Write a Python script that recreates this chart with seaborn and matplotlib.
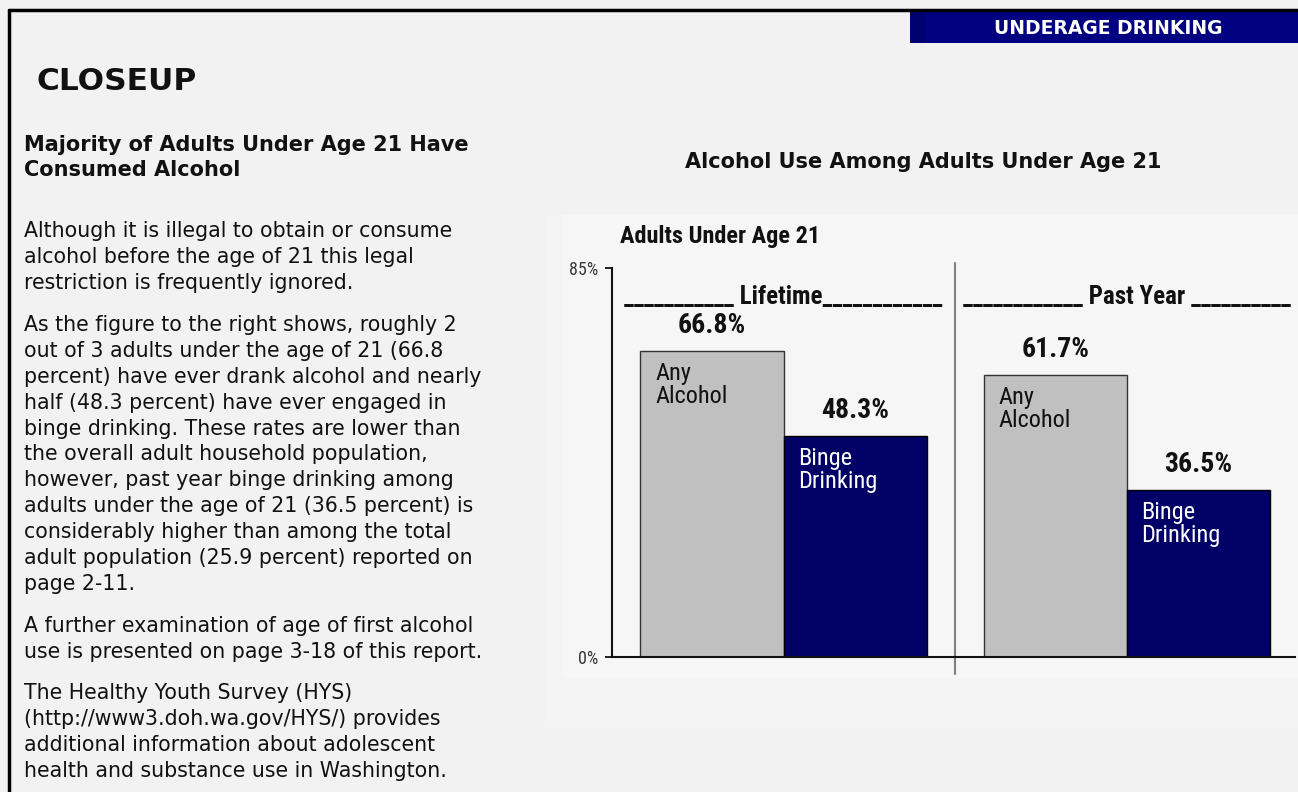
import os
import matplotlib
matplotlib.use("Agg")
import matplotlib.pyplot as plt
from matplotlib import font_manager
from matplotlib.font_manager import FontProperties
from matplotlib.patches import Rectangle
from matplotlib.lines import Line2D
import seaborn as sns
import pandas as pd

# ---- chart data -------------------------------------------------------
periods = ["Lifetime", "Past Year"]
measures = ["Any Alcohol", "Binge Drinking"]
any_alcohol = [66.8, 61.7]
binge_drinking = [48.3, 36.5]
y_ticks = [0, 85]
y_tick_labels = ["0%", "85%"]
bar_colors = ["#C0C0C0", "#000066"]
inner_labels = ["Any\nAlcohol", "Binge\nDrinking"]
inner_label_colors = ["#111111", "#FFFFFF"]
period_headers = ["___________ Lifetime____________",
                  "____________ Past Year __________"]

# ---- page text ---------------------------------------------------------
section_tag = "UNDERAGE DRINKING"
page_title = "CLOSEUP"
subhead = ["Majority of Adults Under Age 21 Have", "Consumed Alcohol"]
chart_title = "Alcohol Use Among Adults Under Age 21"
panel_title = "Adults Under Age 21"
paragraphs = [
    ["Although it is illegal to obtain or consume",
     "alcohol before the age of 21 this legal",
     "restriction is frequently ignored."],
    ["As the figure to the right shows, roughly 2",
     "out of 3 adults under the age of 21 (66.8",
     "percent) have ever drank alcohol and nearly",
     "half (48.3 percent) have ever engaged in",
     "binge drinking. These rates are lower than",
     "the overall adult household population,",
     "however, past year binge drinking among",
     "adults under the age of 21 (36.5 percent) is",
     "considerably higher than among the total",
     "adult population (25.9 percent) reported on",
     "page 2-11."],
    ["A further examination of age of first alcohol",
     "use is presented on page 3-18 of this report."],
    ["The Healthy Youth Survey (HYS)",
     "(http://www3.doh.wa.gov/HYS/) provides",
     "additional information about adolescent",
     "health and substance use in Washington."],
]
paragraph_tops = [231, 325, 626, 693]
line_step = 25.9

df = pd.DataFrame({
    "period": periods * 2,
    "measure": [measures[0]] * 2 + [measures[1]] * 2,
    "value": any_alcohol + binge_drinking,
})

W, H = 1298, 792
sns.set_theme(style="white")
plt.rcParams["font.family"] = ["DejaVu Sans"]


def find_font(keys):
    """Return the first installed font file whose name contains one of keys."""
    files = [f.fname for f in font_manager.fontManager.ttflist]
    files += font_manager.findSystemFonts()
    for key in keys:
        for path in files:
            if key.lower() in os.path.basename(path).lower():
                return path
    return None


reg_path = find_font(["LiberationSansNarrow-Regular", "RobotoCondensed-Regular",
                      "OpenSans_Condensed-Regular", "OpenSansCondensed-Regular",
                      "DejaVuSansCondensed.ttf"])
bold_path = find_font(["LiberationSansNarrow-Bold.", "RobotoCondensed-Bold.",
                       "OpenSans_Condensed-Bold.", "OpenSansCondensed-Bold.",
                       "DejaVuSansCondensed-Bold."])


def narrow_props(size, bold=False):
    path = bold_path if bold else reg_path
    if path:
        return FontProperties(fname=path, size=size)
    return FontProperties(family="Liberation Sans", size=size * 0.88,
                          weight="bold" if bold else "normal")


fig = plt.figure(figsize=(W / 100, H / 100), dpi=100)
fig.patch.set_facecolor("#F2F2F2")


def fx(x):
    return x / W


def fy(y):
    return 1 - y / H


def frect(x0, y0, x1, y1, color, z=0):
    fig.add_artist(Rectangle((fx(x0), fy(y1)), fx(x1 - x0), (y1 - y0) / H,
                             transform=fig.transFigure, facecolor=color,
                             edgecolor="none", zorder=z))


# page frame and section tab
fig.add_artist(Line2D([fx(9), fx(W)], [fy(10), fy(10)], transform=fig.transFigure,
                      color="black", lw=2.5, zorder=3))
fig.add_artist(Line2D([fx(9), fx(9)], [fy(10), fy(H)], transform=fig.transFigure,
                      color="black", lw=2.5, zorder=3))
frect(910, 11, W, 43, "#000080", z=2)
frect(910, 11, 925, 43, "#000070", z=2)
fig.text(fx(1108), fy(28), section_tag, color="white", fontsize=13.5,
         fontweight="bold", ha="center", va="center", zorder=4)

# chart panel background
frect(545, 215, W, 727, "#F4F4F4", z=0)
frect(563, 215, W, 678, "#F6F6F6", z=0)

# left column text
fig.text(fx(36), fy(82), page_title, fontsize=22.5, fontweight="bold",
         ha="left", va="center", color="#111111")
for i, line in enumerate(subhead):
    fig.text(fx(24), fy(145 + 25 * i), line, fontsize=15, fontweight="bold",
             ha="left", va="center", color="#111111")
for top, lines in zip(paragraph_tops, paragraphs):
    for i, line in enumerate(lines):
        fig.text(fx(24), fy(top + line_step * i), line, fontsize=14.8,
                 ha="left", va="center", color="#111111")

fig.text(fx(923), fy(162), chart_title, fontsize=15, fontweight="bold",
         ha="center", va="center", color="#111111")
fig.text(fx(620), fy(237), panel_title, fontproperties=narrow_props(17.5, True),
         ha="left", va="center", color="#111111")

# ---- bar chart -------------------------------------------------------------
ax = fig.add_axes([fx(612), fy(657), fx(1295 - 612), (657 - 268) / H])
ax.set_facecolor("none")
sns.barplot(data=df, x="period", y="value", hue="measure", order=periods,
            hue_order=measures, palette=bar_colors, width=0.834, saturation=1,
            edgecolor="black", linewidth=1.0, legend=False, ax=ax)
for patch in ax.containers[0]:
    patch.set_edgecolor("#333333")

ax.set_xlim(-0.5, 1.49)
ax.set_ylim(0, 85)
ax.set_xlabel("")
ax.set_ylabel("")
ax.set_xticks([])
ax.set_yticks(y_ticks)
ax.set_yticklabels(y_tick_labels, fontproperties=narrow_props(13), color="#3A3A3A")
ax.tick_params(axis="y", left=True, direction="out", length=5, width=1.3,
               color="#111111", pad=5)
for side in ("top", "right"):
    ax.spines[side].set_visible(False)
for side in ("left", "bottom"):
    ax.spines[side].set_color("#111111")
    ax.spines[side].set_linewidth(1.5)

# value labels above bars and category labels inside them
series_values = [any_alcohol, binge_drinking]
for k, container in enumerate(ax.containers):
    for patch, val in zip(container, series_values[k]):
        cx = patch.get_x() + patch.get_width() / 2
        ax.annotate(f"{val:.1f}%", (cx, val), xytext=(0, 8.5),
                    textcoords="offset points", ha="center", va="bottom",
                    fontproperties=narrow_props(20, True), color="#111111")
        ax.annotate(inner_labels[k], (patch.get_x(), val), xytext=(10.5, -8),
                    textcoords="offset points", ha="left", va="top",
                    fontproperties=narrow_props(17.5), color=inner_label_colors[k],
                    linespacing=1.0)

# period headers and divider
for i, header in enumerate(period_headers):
    ax.text(i, 78.7, header, ha="center", va="center",
            fontproperties=narrow_props(18, True), color="#111111")
ax.axvline(0.5, ymin=-17 / 389, ymax=394 / 389, color="#7F7F7F", lw=1.5,
           clip_on=False)

fig.savefig("out.png", dpi=100, facecolor=fig.get_facecolor())
